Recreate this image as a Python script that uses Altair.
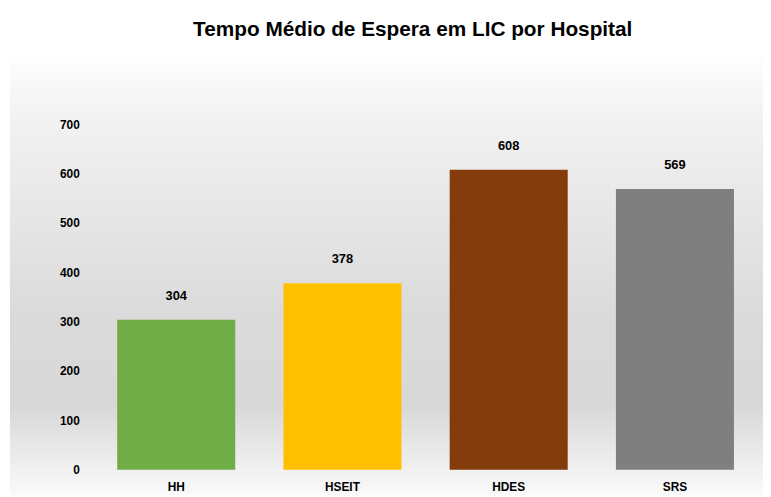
import altair as alt
import pandas as pd

hospitals = ["HH", "HSEIT", "HDES", "SRS"]
values = [304, 378, 608, 569]
colors = ["#70AD47", "#FFC000", "#843C0C", "#7F7F7F"]

df = pd.DataFrame({"hospital": hospitals, "valor": values, "cor": colors})

W, H = 672, 349
FONT = "Liberation Sans"

bg = alt.Chart(pd.DataFrame({"a": [0]})).mark_rect(
    clip=False,
    color=alt.Gradient(
        gradient="linear", x1=0, x2=0, y1=0, y2=1,
        stops=[
            alt.GradientStop(color="#ffffff", offset=0.0),
            alt.GradientStop(color="#f2f2f2", offset=0.15),
            alt.GradientStop(color="#dadada", offset=0.6),
            alt.GradientStop(color="#d8d8d8", offset=0.8),
            alt.GradientStop(color="#f0f0f0", offset=0.94),
            alt.GradientStop(color="#fafafa", offset=1.0),
        ],
    ),
).encode(x=alt.value(-84), x2=alt.value(W + 5), y=alt.value(-75), y2=alt.value(H + 26))

base = alt.Chart(df).encode(
    x=alt.X("hospital:N", sort=hospitals,
            scale=alt.Scale(paddingInner=0.29, paddingOuter=0.145),
            axis=alt.Axis(title=None, labelAngle=0, domain=False, ticks=False,
                          labelPadding=12, labelFont=FONT, labelFontSize=12,
                          labelFontWeight="bold", labelColor="#000000", zindex=1)),
)

bars = base.mark_bar().encode(
    y=alt.Y("valor:Q", scale=alt.Scale(domain=[0, 700]),
            axis=alt.Axis(title=None, values=[0, 100, 200, 300, 400, 500, 600, 700],
                          domain=False, ticks=False, grid=False, labelPadding=14,
                          labelFont=FONT, labelFontSize=12, labelFontWeight="bold",
                          labelColor="#000000", zindex=1)),
    color=alt.Color("cor:N", scale=None),
)

labels = base.mark_text(dy=-24, font=FONT, fontSize=13, fontWeight="bold",
                        color="#000000").encode(
    y=alt.Y("valor:Q"),
    text=alt.Text("valor:Q"),
)

chart = alt.layer(bg, bars, labels).properties(
    width=W, height=H,
    title=alt.TitleParams("Tempo Médio de Espera em LIC por Hospital",
                          font=FONT, fontSize=21, fontWeight="bold",
                          color="#000000", anchor="middle", dx=-13, offset=10),
    padding={"left": 86, "top": 115, "right": 5, "bottom": 26},
    autosize=alt.AutoSizeParams(type="none"),
).configure_view(stroke=None)

chart.save("out.html", embed_options={"renderer": "svg", "actions": False})
